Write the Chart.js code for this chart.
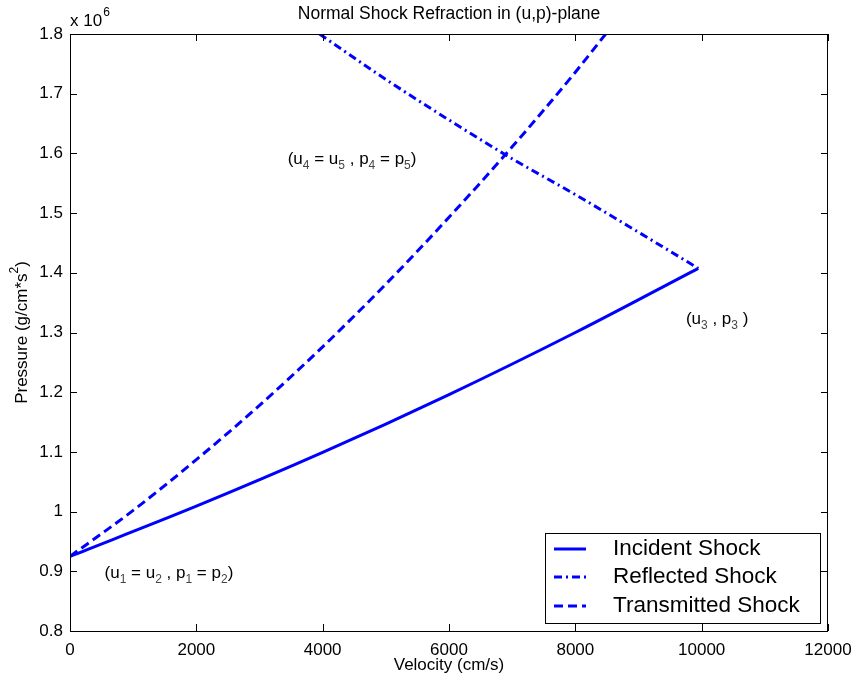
<!DOCTYPE html>
<html>
<head>
<meta charset="utf-8">
<script src="https://cdn.jsdelivr.net/npm/chart.js@4"></script>
<style>
  html, body { margin: 0; padding: 0; background: #fff; }
  #wrap { width: 854px; height: 685px; }
</style>
</head>
<body>
<div id="wrap"><canvas id="grafico" width="854" height="685"></canvas></div>
<script>
// dados (pressão em unidades de 10^6)
const incidenteU = [0, 2000, 4000, 6000, 8000, 9946];
const incidenteP = [0.925, 1.009, 1.099, 1.196, 1.300, 1.4075];

const refletidoU = [3950, 5000, 6000, 7000, 8000, 9000, 9946];
const refletidoP = [1.800, 1.724, 1.656, 1.591, 1.531, 1.468, 1.4075];

const transmitidoU = [0, 1000, 2000, 3000, 4000, 5000, 6000, 7000, 8000, 8480];
const transmitidoP = [0.925, 1.002, 1.087, 1.178, 1.276, 1.381, 1.493, 1.611, 1.736, 1.800];

const nomesSeries = ['Incident Shock', 'Reflected Shock', 'Transmitted Shock'];

// rótulos de texto (posição em coordenadas dos dados)
const rotulos = [
    { u: 547, p: 0.899, partes: [['(u', 0], ['1', 1], [' = u', 0], ['2', 1], [' , p', 0], ['1', 1], [' = p', 0], ['2', 1], [')', 0]] },
    { u: 3446, p: 1.592, partes: [['(u', 0], ['4', 1], [' = u', 0], ['5', 1], [' , p', 0], ['4', 1], [' = p', 0], ['5', 1], [')', 0]] },
    { u: 9750, p: 1.324, partes: [['(u', 0], ['3', 1], [' , p', 0], ['3', 1], [' )', 0]] }
];

const FONTE = '"Liberation Sans", Arial, sans-serif';

function pontos(us, ps) {
    return us.map((u, i) => ({ x: u, y: ps[i] }));
}

function textoComIndices(ctx, partes, x, y) {
    ctx.textBaseline = 'alphabetic';
    ctx.textAlign = 'left';
    let cx = x;
    partes.forEach(([t, sub]) => {
        ctx.font = sub ? '12px ' + FONTE : '17px ' + FONTE;
        ctx.fillStyle = sub ? '#444' : '#000';
        ctx.fillText(t, cx, sub ? y + 5 : y);
        cx += ctx.measureText(t).width;
    });
}

const pluginTextos = {
    id: 'textos',
    afterDraw(chart) {
        const ctx = chart.ctx;
        const a = chart.chartArea;
        const sx = chart.scales.x, sy = chart.scales.y;
        ctx.save();

        // caixa e marcas internas
        ctx.strokeStyle = '#000';
        ctx.lineWidth = 1;
        ctx.strokeRect(a.left + 0.5, a.top + 0.5, a.right - a.left - 1, a.bottom - a.top);
        ctx.beginPath();
        sx.ticks.forEach(t => {
            const px = Math.round(sx.getPixelForValue(t.value)) + 0.5;
            ctx.moveTo(px, a.bottom); ctx.lineTo(px, a.bottom - 7);
            ctx.moveTo(px, a.top); ctx.lineTo(px, a.top + 7);
        });
        sy.ticks.forEach(t => {
            const py = Math.round(sy.getPixelForValue(t.value)) + 0.5;
            ctx.moveTo(a.left, py); ctx.lineTo(a.left + 7, py);
            ctx.moveTo(a.right, py); ctx.lineTo(a.right - 7, py);
        });
        ctx.stroke();

        // título e eixos
        ctx.fillStyle = '#000';
        ctx.textAlign = 'center';
        ctx.textBaseline = 'middle';
        ctx.font = '17.5px ' + FONTE;
        ctx.fillText('Normal Shock Refraction in (u,p)-plane', (a.left + a.right) / 2, 14);
        ctx.font = '17px ' + FONTE;
        ctx.fillText('Velocity (cm/s)', (a.left + a.right) / 2, 665);

        ctx.save();
        ctx.translate(22, (a.top + a.bottom) / 2);
        ctx.rotate(-Math.PI / 2);
        ctx.textAlign = 'left';
        ctx.font = '17px ' + FONTE;
        const base = 'Pressure (g/cm*s';
        const w1 = ctx.measureText(base).width;
        ctx.font = '12px ' + FONTE;
        const w2 = ctx.measureText('2').width;
        ctx.font = '17px ' + FONTE;
        const w3 = ctx.measureText(')').width;
        const x0 = -(w1 + w2 + w3) / 2;
        ctx.fillText(base, x0, 0);
        ctx.font = '12px ' + FONTE;
        ctx.fillText('2', x0 + w1, -7);
        ctx.font = '17px ' + FONTE;
        ctx.fillText(')', x0 + w1 + w2, 0);
        ctx.restore();

        // fator de escala
        ctx.textAlign = 'left';
        ctx.textBaseline = 'alphabetic';
        ctx.font = '17px ' + FONTE;
        const wx = ctx.measureText('x 10').width;
        ctx.fillText('x 10', a.left, 26);
        ctx.font = '12px ' + FONTE;
        ctx.fillText('6', a.left + wx + 1, 16);

        // rótulos dos estados
        rotulos.forEach(r => {
            textoComIndices(ctx, r.partes, sx.getPixelForValue(r.u), sy.getPixelForValue(r.p) + 6);
        });

        // legenda
        const lx = 545, ly = 533, lw = 275, lh = 90;
        ctx.fillStyle = '#fff';
        ctx.fillRect(lx, ly, lw, lh);
        ctx.strokeStyle = '#000';
        ctx.lineWidth = 1;
        ctx.strokeRect(lx + 0.5, ly + 0.5, lw, lh);
        const linhas = [549, 577, 606];
        chart.data.datasets.forEach((ds, i) => {
            ctx.strokeStyle = ds.borderColor;
            ctx.lineWidth = ds.borderWidth;
            ctx.setLineDash(ds.borderDash || []);
            ctx.beginPath();
            ctx.moveTo(554, linhas[i]);
            ctx.lineTo(586, linhas[i]);
            ctx.stroke();
            ctx.setLineDash([]);
            ctx.fillStyle = '#000';
            ctx.font = '22.5px ' + FONTE;
            ctx.textBaseline = 'middle';
            ctx.fillText(ds.label, 613, linhas[i]);
        });
        ctx.restore();
    }
};

const ctx = document.getElementById('grafico').getContext('2d');
const chart = new Chart(ctx, {
    type: 'line',
    data: {
        datasets: [{
            label: nomesSeries[0],
            data: pontos(incidenteU, incidenteP),
            borderColor: '#0000ff',
            borderWidth: 3,
            pointRadius: 0,
            cubicInterpolationMode: 'monotone'
        }, {
            label: nomesSeries[1],
            data: pontos(refletidoU, refletidoP),
            borderColor: '#0000ff',
            borderWidth: 3,
            borderDash: [8, 4, 2, 4],
            pointRadius: 0,
            cubicInterpolationMode: 'monotone'
        }, {
            label: nomesSeries[2],
            data: pontos(transmitidoU, transmitidoP),
            borderColor: '#0000ff',
            borderWidth: 3,
            borderDash: [9, 5],
            pointRadius: 0,
            cubicInterpolationMode: 'monotone'
        }]
    },
    options: {
        responsive: false,
        animation: false,
        layout: { padding: { top: 34, right: 26, left: 0, bottom: 0 } },
        plugins: { legend: { display: false }, tooltip: { enabled: false } },
        scales: {
            x: {
                type: 'linear',
                min: 0, max: 12000,
                grid: { display: false, drawTicks: false },
                border: { display: false },
                ticks: { stepSize: 2000, color: '#000', padding: 9, maxRotation: 0,
                         font: { family: FONTE, size: 17 },
                         callback: v => String(v) },
                afterFit: s => { s.height = 54; s.paddingLeft = 0; s.paddingRight = 0; }
            },
            y: {
                type: 'linear',
                min: 0.8, max: 1.8,
                grid: { display: false, drawTicks: false },
                border: { display: false },
                ticks: { stepSize: 0.1, color: '#000', padding: 7,
                         font: { family: FONTE, size: 17 },
                         callback: v => String(parseFloat(v.toFixed(1))) },
                afterFit: s => { s.width = 70; s.paddingTop = 0; s.paddingBottom = 0; }
            }
        }
    },
    plugins: [pluginTextos]
});
</script>
</body>
</html>
